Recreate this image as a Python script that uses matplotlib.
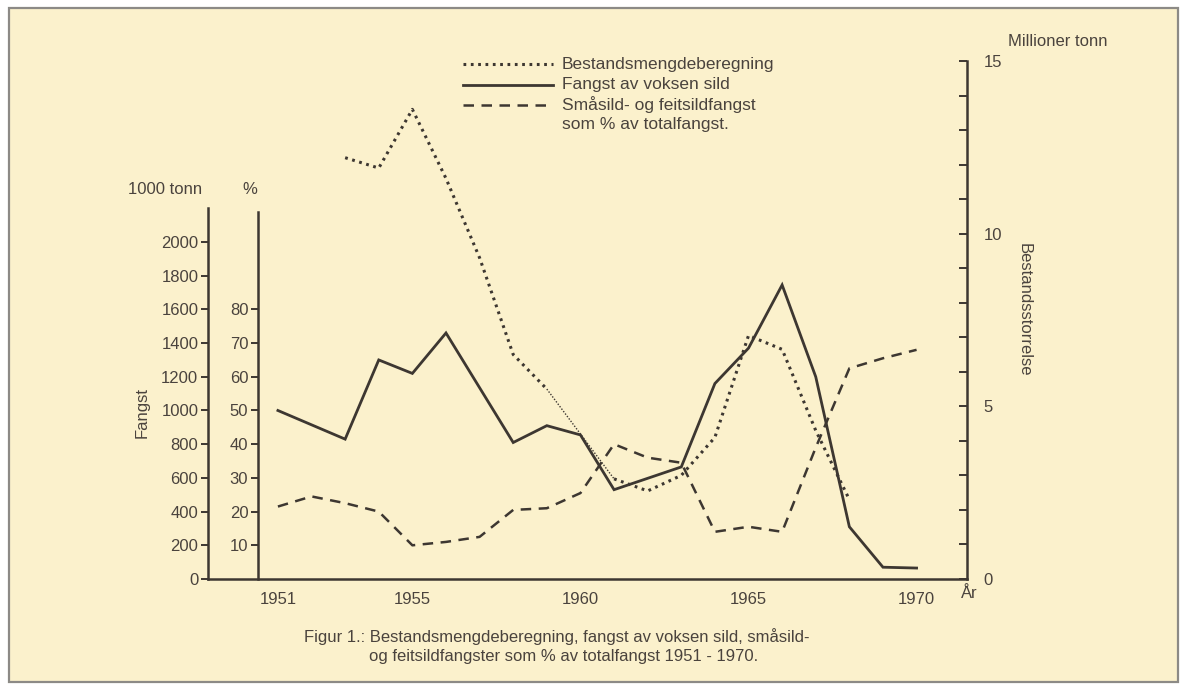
"""Figur 1: bestandsmengde, fangst av voksen sild og småsild-/feitsildfangst 1951-1970."""

import matplotlib
matplotlib.use("Agg")
import matplotlib.pyplot as plt
from matplotlib.patches import Rectangle
from matplotlib.ticker import FixedLocator, MultipleLocator

# Fangst av voksen sild, 1000 tonn
catch_years = [1951, 1953, 1954, 1955, 1956, 1958, 1959, 1960, 1961, 1963,
               1964, 1965, 1966, 1967, 1968, 1969, 1970]
catch = [1000, 830, 1300, 1220, 1460, 810, 910, 855, 530, 665,
         1160, 1370, 1745, 1200, 310, 70, 65]

# Småsild- og feitsildfangst, % av totalfangst
pct_years = list(range(1951, 1971))
pct = [21.5, 24.5, 22.5, 20, 10, 11, 12.5, 20.5, 21, 25.5,
       40, 36, 34.5, 14, 15.5, 14, 39, 62.5, 65.5, 68]

# Bestandsmengdeberegning, millioner tonn (1959-1961 tegnet tynt)
stock_years = list(range(1953, 1969))
stock = [12.2, 11.9, 13.6, 11.6, 9.3, 6.5, 5.5, 4.2,
         2.9, 2.55, 3.0, 4.1, 7.05, 6.65, 4.3, 2.3]

year_ticks = [1951, 1955, 1960, 1965, 1970]
tonn_ticks = list(range(0, 2001, 200))
pct_ticks = list(range(10, 81, 10))
stock_ticks = [0, 5, 10, 15]

INK = "#3d3731"
TXT = "#4a433d"
BG = "#fbf1cc"
FONT = ["Liberation Sans", "DejaVu Sans"]

plt.rcParams["font.family"] = FONT
plt.rcParams["font.size"] = 12

W, H = 1187, 685
fig = plt.figure(figsize=(W / 100, H / 100), dpi=100, facecolor="white")
fig.patches.append(Rectangle((9 / W, 3 / H), 1169 / W, 674 / H, transform=fig.transFigure,
                             facecolor=BG, edgecolor="#8c8a86", lw=1.6, zorder=-10))


def px(x0, y0, x1, y1):
    return [x0 / W, 1 - y1 / H, (x1 - x0) / W, (y1 - y0) / H]


# main axes: left spine at x=208, right spine at x=967, zero at y=579, 15 mill. at y=61
ax = fig.add_axes(px(208, 61, 967, 579))
ax.patch.set_alpha(0)
ax.set_xlim(1948.92, 1971.5)
ax.set_ylim(0, 3074)
for s in ("top", "right"):
    ax.spines[s].set_visible(False)
ax.spines["left"].set_bounds(0, 2200)
for s in ("left", "bottom"):
    ax.spines[s].set_color(INK)
    ax.spines[s].set_linewidth(1.8)
ax.set_xticks(year_ticks)
ax.tick_params(axis="x", length=0, pad=9, labelsize=12, labelcolor=TXT)
ax.yaxis.set_major_locator(FixedLocator(tonn_ticks))
ax.tick_params(axis="y", direction="out", length=5, width=1.4, color=INK,
               pad=2, labelsize=12, labelcolor=TXT)
ax.plot(catch_years, catch, color=INK, lw=2.0, solid_joinstyle="miter")

# percent axis
axp = ax.twinx()
axp.patch.set_alpha(0)
axp.set_ylim(0, 153.7)
for s in ("top", "right", "bottom"):
    axp.spines[s].set_visible(False)
axp.spines["left"].set_visible(True)
axp.spines["left"].set_position(("axes", 50 / 759))
axp.spines["left"].set_bounds(0, 109)
axp.spines["left"].set_color(INK)
axp.spines["left"].set_linewidth(1.8)
axp.yaxis.set_ticks_position("left")
axp.yaxis.set_major_locator(FixedLocator(pct_ticks))
axp.tick_params(axis="y", direction="out", length=5, width=1.4, color=INK,
                pad=2, labelsize=12, labelcolor=TXT)
axp.plot(pct_years, pct, color=INK, lw=1.8, linestyle=(0, (4.2, 3.0)))

# stock axis
axs = ax.twinx()
axs.patch.set_alpha(0)
axs.set_ylim(0, 15)
for s in ("top", "left", "bottom"):
    axs.spines[s].set_visible(False)
axs.spines["right"].set_color(INK)
axs.spines["right"].set_linewidth(1.8)
axs.yaxis.set_major_locator(FixedLocator(stock_ticks))
axs.yaxis.set_minor_locator(MultipleLocator(1))
axs.tick_params(axis="y", which="both", direction="in", length=6, width=1.4,
                color=INK, pad=12, labelsize=12, labelcolor=TXT)
a, b = stock_years.index(1959), stock_years.index(1961)
dots = dict(color=INK, lw=2.2, linestyle=(0, (0.9, 1.5)))
axs.plot(stock_years[:a + 1], stock[:a + 1], **dots)
axs.plot(stock_years[a:b + 1], stock[a:b + 1], color=INK, lw=1.0, linestyle=(0, (1, 1.2)))
axs.plot(stock_years[b:], stock[b:], **dots)

# axis titles
fig.text(165 / W, 1 - 190 / H, "1000 tonn", ha="center", va="center", color=TXT, fontsize=12)
fig.text(250 / W, 1 - 190 / H, "%", ha="center", va="center", color=TXT, fontsize=12)
fig.text(142 / W, 1 - 412 / H, "Fangst", ha="center", va="center", rotation=90,
         color=TXT, fontsize=12)
fig.text(1058 / W, 1 - 42 / H, "Millioner tonn", ha="center", va="center", color=TXT, fontsize=12)
fig.text(1024 / W, 1 - 310 / H, "Bestandsstorrelse", ha="center", va="center",
         rotation=-90, color=TXT, fontsize=12)
fig.text(969 / W, 1 - 593 / H, "År", ha="center", va="center", color=TXT, fontsize=12)

# legend, drawn by hand as in the original
leg = [("Bestandsmengdeberegning", dots, 64),
       ("Fangst av voksen sild", dict(color=INK, lw=2.0), 85),
       ("Småsild- og feitsildfangst", dict(color=INK, lw=1.8, linestyle=(0, (4.2, 3.0))), 105)]
for label, style, y in leg:
    fig.add_artist(plt.Line2D([463 / W, 553 / W], [1 - y / H, 1 - y / H], **style))
    fig.text(562 / W, 1 - y / H, label, ha="left", va="center", color=TXT, fontsize=12.5)
fig.text(562 / W, 1 - 124 / H, "som % av totalfangst.", ha="left", va="center",
         color=TXT, fontsize=12.5)

# caption
fig.text(304 / W, 1 - 637 / H, "Figur 1.: Bestandsmengdeberegning, fangst av voksen sild, småsild-",
         ha="left", va="center", color=TXT, fontsize=12)
fig.text(369 / W, 1 - 657 / H, "og feitsildfangster som % av totalfangst 1951 - 1970.",
         ha="left", va="center", color=TXT, fontsize=12)

fig.savefig("out.png", dpi=100, facecolor=fig.get_facecolor())
